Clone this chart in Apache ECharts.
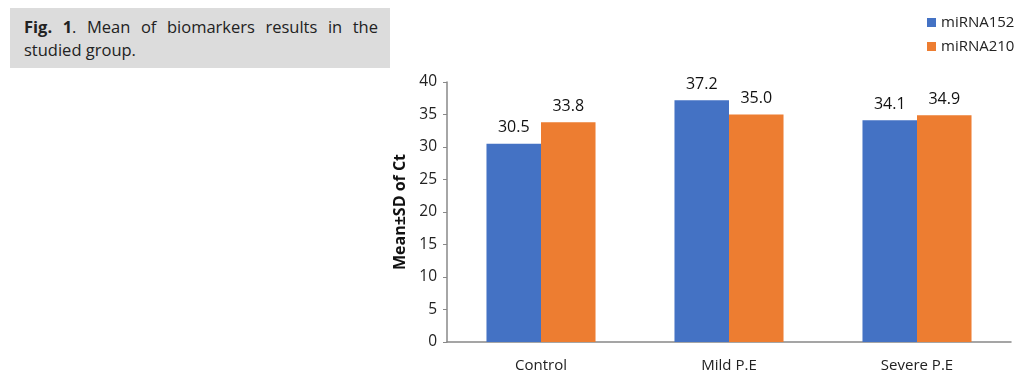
<!DOCTYPE html>
<html>
<head>
<meta charset="utf-8">
<script src="https://cdn.jsdelivr.net/npm/echarts@6/dist/echarts.min.js"></script>
<style>
  html, body { margin: 0; padding: 0; background: #fff; }
  #wrap { position: relative; width: 1035px; height: 390px; }
  #chart { position: absolute; left: 0; top: 0; width: 1035px; height: 390px; }
  #caption {
    position: absolute; left: 10px; top: 8px; width: 354px; height: 46px;
    padding: 7px 12px 7px 14px; background: #dcdcdc;
    font-family: "Open Sans", sans-serif; font-size: 16.5px; line-height: 23px;
    color: #222; text-align: justify; z-index: 2;
  }
</style>
</head>
<body>
<div id="wrap">
  <div id="chart"></div>
  <div id="caption"><b>Fig. 1</b>. Mean of biomarkers results in the studied group.</div>
</div>
<script>
const categories = ["Control", "Mild P.E", "Severe P.E"];
const seriesNames = ["miRNA152", "miRNA210"];
const mirna152 = [30.5, 37.2, 34.1];
const mirna210 = [33.8, 35.0, 34.9];
const colors = ["#4472C4", "#ED7D31"];

const chart = echarts.init(document.getElementById("chart"), null, { renderer: "canvas" });

const font = "'Open Sans', 'Noto Sans', sans-serif";

function barSeries(name, data, color) {
  return {
    name: name,
    type: "bar",
    data: data,
    barGap: "0%",
    barCategoryGap: "42%",
    itemStyle: { color: color },
    label: {
      show: true,
      position: "top",
      distance: 8,
      color: "#111",
      fontSize: 16,
      fontFamily: font,
      formatter: (p) => p.value.toFixed(1),
    },
  };
}

chart.setOption({
  animation: false,
  textStyle: { fontFamily: font },
  legend: {
    orient: "vertical",
    left: 922,
    top: 10,
    itemWidth: 9,
    itemHeight: 9,
    itemGap: 9,
    icon: "rect",
    data: seriesNames,
    textStyle: { fontSize: 15, color: "#222", fontFamily: font },
  },
  grid: { left: 447, right: 24, top: 82, bottom: 48 },
  xAxis: {
    type: "category",
    data: categories,
    axisLine: { lineStyle: { color: "#888", width: 1.5 } },
    axisTick: { show: false },
    axisLabel: { color: "#222", fontSize: 15, margin: 16, fontFamily: font },
  },
  yAxis: {
    type: "value",
    min: 0,
    max: 40,
    interval: 5,
    name: "Mean±SD of Ct",
    nameLocation: "middle",
    nameGap: 38,
    nameTextStyle: { fontSize: 16, fontWeight: "bold", color: "#111", fontFamily: font },
    axisLine: { show: true, lineStyle: { color: "#888", width: 1.5 } },
    axisTick: { show: true, length: 4, lineStyle: { color: "#888" } },
    axisLabel: { color: "#222", fontSize: 15.5, margin: 10, fontFamily: font },
    splitLine: { show: false },
  },
  series: [
    barSeries(seriesNames[0], mirna152, colors[0]),
    barSeries(seriesNames[1], mirna210, colors[1]),
  ],
});
</script>
</body>
</html>
